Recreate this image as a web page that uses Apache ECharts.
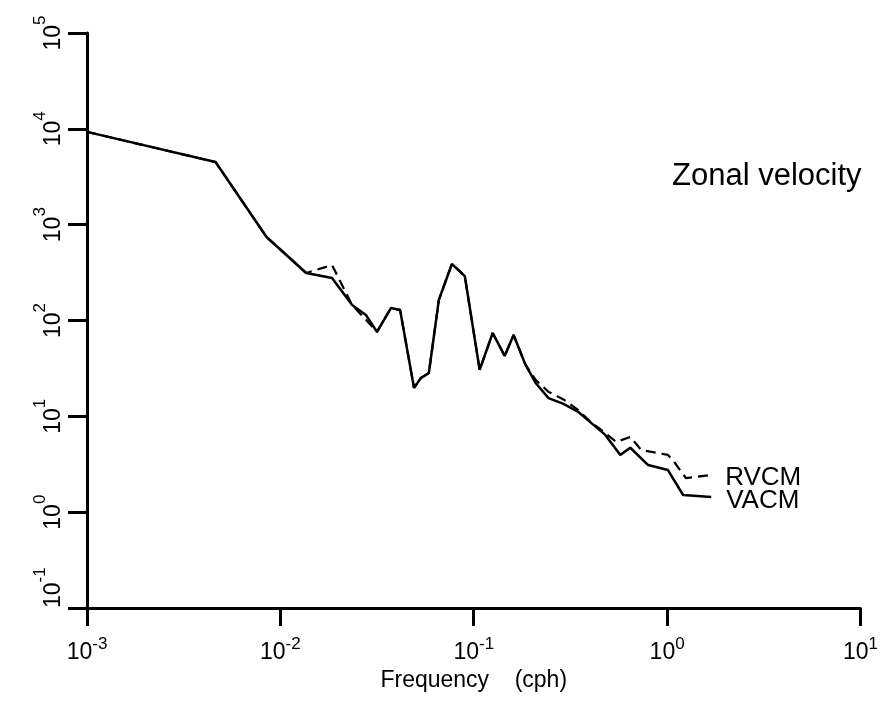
<!DOCTYPE html>
<html>
<head>
<meta charset="utf-8">
<script src="https://cdn.jsdelivr.net/npm/echarts@6/dist/echarts.min.js"></script>
<style>
html,body{margin:0;padding:0;background:#fff;}
#chart{width:881px;height:703px;}
</style>
</head>
<body>
<div id="chart"></div>
<script>
// Frequency (cph) and spectral values
var vacmFreq = [0.001, 0.00462, 0.00848, 0.0136, 0.0185, 0.0235, 0.0277, 0.0316, 0.0373, 0.0416, 0.0491, 0.0533, 0.0586, 0.066, 0.0771, 0.0899, 0.1073, 0.1253, 0.1445, 0.1607, 0.1854, 0.209, 0.2437, 0.291, 0.3475, 0.406, 0.479, 0.573, 0.645, 0.798, 1.01, 1.21, 1.69];
var vacmValues = [9300, 4500, 743, 313, 278, 145, 114, 76, 135, 129, 19.8, 25.1, 28.3, 164, 389, 291, 30.5, 74, 42.7, 70.6, 34.4, 22.3, 15.5, 13.5, 11.1, 8.5, 6.4, 3.96, 4.7, 3.1, 2.75, 1.51, 1.44];

var rvcmFreq = [0.001, 0.00462, 0.00848, 0.0136, 0.0185, 0.0235, 0.0277, 0.0316, 0.0373, 0.0416, 0.0491, 0.0533, 0.0586, 0.066, 0.0771, 0.0899, 0.1073, 0.1253, 0.1445, 0.1607, 0.1854, 0.209, 0.2437, 0.291, 0.3475, 0.406, 0.457, 0.546, 0.645, 0.734, 1.01, 1.07, 1.25, 1.67];
var rvcmValues = [9300, 4500, 743, 313, 379, 145, 102, 76, 135, 129, 19.8, 25.1, 28.3, 164, 389, 291, 30.5, 74, 42.7, 70.6, 34.4, 24, 18, 15, 11.6, 8.6, 7.2, 5.4, 6.1, 4.46, 3.96, 3.5, 2.27, 2.44];

var seriesNames = ['RVCM', 'VACM'];
var tickBase = '10';
var titleText = 'Zonal velocity';
var xAxisName = 'Frequency    (cph)';

function pairs(xs, ys) {
  var out = [];
  for (var i = 0; i < xs.length; i++) out.push([xs[i], ys[i]]);
  return out;
}

var FONT = 'Liberation Sans, Arial, Helvetica, sans-serif';

function powLabel(v) {
  var e = Math.round(Math.log10(v));
  return '{b|' + tickBase + '}{e|' + e + '}';
}

var richX = {
  b: {fontSize: 23, fontFamily: FONT, color: '#000', lineHeight: 28, verticalAlign: 'bottom'},
  e: {fontSize: 17, fontFamily: FONT, color: '#000', verticalAlign: 'top'}
};
var richY = {
  b: {fontSize: 23, fontFamily: FONT, color: '#000', lineHeight: 33, verticalAlign: 'bottom'},
  e: {fontSize: 17, fontFamily: FONT, color: '#000', verticalAlign: 'top'}
};

var chart = echarts.init(document.getElementById('chart'), null, {renderer: 'canvas'});
chart.setOption({
  animation: false,
  backgroundColor: '#fff',
  title: {
    text: titleText,
    left: 667,
    top: 156,
    textStyle: {fontSize: 31, fontWeight: 'normal', fontFamily: FONT, color: '#000'}
  },
  grid: {left: 87, right: 18, top: 33, bottom: 95},
  xAxis: {
    type: 'log',
    logBase: 10,
    min: 0.001,
    max: 10,
    splitNumber: 4,
    name: xAxisName,
    nameLocation: 'middle',
    nameGap: 60,
    nameTextStyle: {fontSize: 23, fontFamily: FONT, color: '#000'},
    axisLine: {show: true, lineStyle: {color: '#000', width: 3}},
    axisTick: {show: true, inside: false, length: 18, lineStyle: {color: '#000', width: 3}},
    axisLabel: {show: true, margin: 28, formatter: powLabel, rich: richX, color: '#000'},
    splitLine: {show: false},
    minorTick: {show: false}
  },
  yAxis: {
    type: 'log',
    logBase: 10,
    min: 0.1,
    max: 100000,
    splitNumber: 6,
    axisLine: {show: true, lineStyle: {color: '#000', width: 3}},
    axisTick: {show: true, inside: false, length: 19, lineStyle: {color: '#000', width: 3}},
    axisLabel: {show: true, rotate: 90, margin: 22, formatter: powLabel, rich: richY, color: '#000', alignMinLabel: 'left'},
    splitLine: {show: false},
    minorTick: {show: false}
  },
  series: [
    {
      name: seriesNames[0],
      type: 'line',
      data: pairs(rvcmFreq, rvcmValues),
      showSymbol: false,
      symbol: 'none',
      lineStyle: {color: '#000', width: 2.2, type: [10, 6]},
      endLabel: {show: true, formatter: '{a}', fontSize: 26, fontFamily: FONT, color: '#000', distance: 15, offset: [0, 3]}
    },
    {
      name: seriesNames[1],
      type: 'line',
      data: pairs(vacmFreq, vacmValues),
      showSymbol: false,
      symbol: 'none',
      lineStyle: {color: '#000', width: 2.5, type: 'solid'},
      endLabel: {show: true, formatter: '{a}', fontSize: 26, fontFamily: FONT, color: '#000', distance: 15, offset: [0, 4]}
    }
  ]
});
</script>
</body>
</html>
